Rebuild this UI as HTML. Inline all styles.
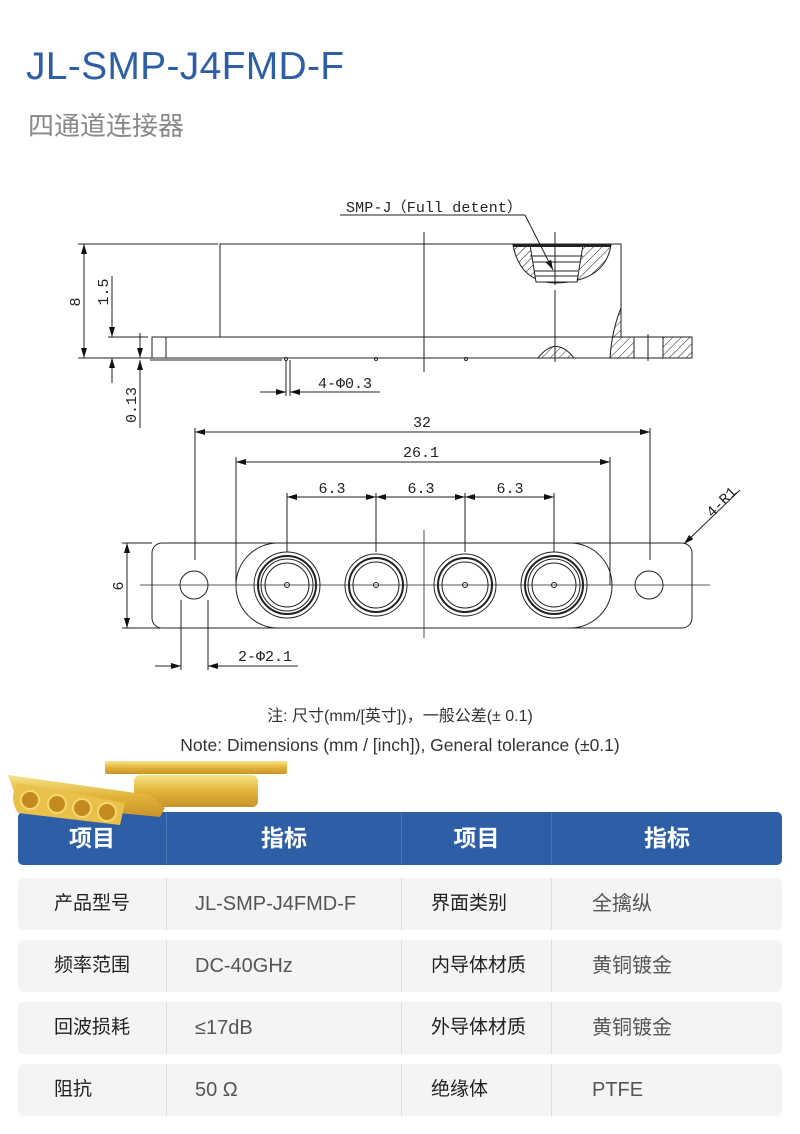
<!DOCTYPE html>
<html><head><meta charset="utf-8">
<style>
html,body{margin:0;padding:0;background:#fff;}
body{width:800px;height:1134px;position:relative;overflow:hidden;font-family:"Liberation Sans","Noto Sans CJK SC",sans-serif;}
.t1{position:absolute;left:26px;top:45px;font-size:39px;color:#2e5fa6;letter-spacing:0.3px;}
.t2{position:absolute;left:28px;top:106px;font-size:26px;color:#888;}
.note{position:absolute;left:0;width:800px;text-align:center;color:#333;}
.row{position:absolute;left:18px;width:764px;height:52px;background:#f4f4f4;border-radius:5px;}
.hd{background:#2e5fa6;border-radius:5px;height:53px;top:812px;}
.c{position:absolute;top:0;height:100%;line-height:52px;font-size:19px;}
.hd .c{color:#fff;font-weight:bold;font-size:23px;text-align:center;}
.v{color:#555;font-size:20px;}
.dv{position:absolute;top:0;height:100%;width:1px;background:#ddd;}
.hd .dv{background:#4b76b5;}
</style></head><body>
<div class="t1">JL-SMP-J4FMD-F</div>
<div class="t2">四通道连接器</div>
<svg width="800" height="700" style="position:absolute;left:0;top:0" font-family="Liberation Mono,monospace" font-size="15" fill="none" stroke="#222" stroke-width="1">
<defs>
<pattern id="h" width="6" height="6" patternUnits="userSpaceOnUse" patternTransform="rotate(45)"><line x1="0" y1="0" x2="0" y2="6" stroke="#222" stroke-width="1"/></pattern>
<marker id="a" markerWidth="10" markerHeight="6" refX="10" refY="3" orient="auto-start-reverse" markerUnits="userSpaceOnUse"><path d="M0,0 L10,3 L0,6z" fill="#111" stroke="none"/></marker>
</defs>
<line x1="78" y1="244" x2="218" y2="244"/>
<rect x="220" y="244" width="401" height="93"/>
<rect x="152" y="337" width="540" height="21"/>
<line x1="166" y1="337" x2="166" y2="358"/>
<line x1="78" y1="358" x2="152" y2="358"/>
<line x1="150" y1="360" x2="282" y2="360"/>
<line x1="424" y1="232" x2="424" y2="372"/>
<path d="M513,245 Q520,282 555,283 Q605,282 611,245 Z" fill="url(#h)"/>
<path d="M530,245 L583,245 L577,282 L536,282 Z" fill="#fff"/>
<line x1="530" y1="256" x2="583" y2="256"/><line x1="533" y1="262" x2="580" y2="262"/><line x1="534" y1="271" x2="578" y2="271"/><line x1="535" y1="276" x2="578" y2="276"/>
<line x1="513" y1="246" x2="611" y2="246" stroke-width="2"/>
<line x1="555" y1="232" x2="555" y2="285"/><line x1="555" y1="290" x2="555" y2="362"/>
<path d="M538,358 Q556,335 574,358 Z" fill="url(#h)"/>
<path d="M621,308 Q612,330 610,358 L634,358 L634,337 L621,337 Z" fill="url(#h)"/>
<rect x="663" y="337" width="29" height="21" fill="url(#h)"/>
<line x1="648" y1="334" x2="648" y2="361"/>
<circle cx="286" cy="359" r="1.5"/><circle cx="376" cy="359" r="1.5"/><circle cx="466" cy="359" r="1.5"/>
<line x1="84" y1="244" x2="84" y2="358" marker-start="url(#a)" marker-end="url(#a)"/>
<line x1="112" y1="276" x2="112" y2="337" marker-end="url(#a)"/>
<line x1="112" y1="358" x2="112" y2="383" marker-start="url(#a)"/>
<line x1="108" y1="337" x2="148" y2="337"/>
<line x1="140" y1="333" x2="140" y2="358" marker-end="url(#a)"/>
<line x1="140" y1="360" x2="140" y2="428" marker-start="url(#a)"/>
<line x1="286" y1="360" x2="286" y2="396"/><line x1="290" y1="360" x2="290" y2="396"/>
<line x1="260" y1="392" x2="286" y2="392" marker-end="url(#a)"/>
<line x1="290" y1="392" x2="380" y2="392" marker-start="url(#a)"/>
<line x1="340" y1="215" x2="525" y2="215"/>
<line x1="525" y1="215" x2="553" y2="270" marker-end="url(#a)"/>
<g fill="#222" stroke="none">
<text x="346" y="212" textLength="176">SMP-J（Full detent）</text>
<text x="318" y="388">4-Φ0.3</text>
<text transform="translate(80,302) rotate(-90)" text-anchor="middle">8</text>
<text transform="translate(108,292) rotate(-90)" text-anchor="middle">1.5</text>
<text transform="translate(136,405) rotate(-90)" text-anchor="middle">0.13</text>
</g>
<rect x="152" y="543" width="540" height="85" rx="10"/>
<rect x="236" y="543" width="376" height="85" rx="42"/>
<line x1="140" y1="585" x2="710" y2="585" stroke-width="0.8"/>
<line x1="424" y1="530" x2="424" y2="638" stroke-width="0.8"/>
<circle cx="194" cy="585" r="14"/><circle cx="649" cy="585" r="14"/>
<g>
<circle cx="287" cy="585" r="33"/><circle cx="287" cy="585" r="29" stroke-width="2"/><circle cx="287" cy="585" r="26"/><circle cx="287" cy="585" r="22"/><circle cx="287" cy="585" r="2.5"/>
<circle cx="376" cy="585" r="31"/><circle cx="376" cy="585" r="27" stroke-width="2"/><circle cx="376" cy="585" r="23"/><circle cx="376" cy="585" r="2.5"/>
<circle cx="465" cy="585" r="31"/><circle cx="465" cy="585" r="27" stroke-width="2"/><circle cx="465" cy="585" r="23"/><circle cx="465" cy="585" r="2.5"/>
<circle cx="554" cy="585" r="33"/><circle cx="554" cy="585" r="29" stroke-width="2"/><circle cx="554" cy="585" r="26"/><circle cx="554" cy="585" r="22"/><circle cx="554" cy="585" r="2.5"/>
</g>
<line x1="195" y1="428" x2="195" y2="560"/><line x1="650" y1="428" x2="650" y2="560"/>
<line x1="195" y1="432" x2="650" y2="432" marker-start="url(#a)" marker-end="url(#a)"/>
<line x1="236" y1="457" x2="236" y2="585"/><line x1="610" y1="457" x2="610" y2="585"/>
<line x1="236" y1="462" x2="610" y2="462" marker-start="url(#a)" marker-end="url(#a)"/>
<line x1="287" y1="493" x2="287" y2="552"/><line x1="376" y1="493" x2="376" y2="552"/><line x1="465" y1="493" x2="465" y2="552"/><line x1="554" y1="493" x2="554" y2="552"/>
<line x1="287" y1="497" x2="376" y2="497" marker-start="url(#a)" marker-end="url(#a)"/>
<line x1="376" y1="497" x2="465" y2="497" marker-start="url(#a)" marker-end="url(#a)"/>
<line x1="465" y1="497" x2="554" y2="497" marker-start="url(#a)" marker-end="url(#a)"/>
<line x1="122" y1="543" x2="152" y2="543"/><line x1="122" y1="628" x2="160" y2="628"/>
<line x1="127" y1="543" x2="127" y2="628" marker-start="url(#a)" marker-end="url(#a)"/>
<line x1="181" y1="600" x2="181" y2="670"/><line x1="208" y1="600" x2="208" y2="670"/>
<line x1="155" y1="666" x2="181" y2="666" marker-end="url(#a)"/>
<line x1="208" y1="666" x2="298" y2="666" marker-start="url(#a)"/>
<line x1="740" y1="490" x2="684" y2="544" marker-end="url(#a)"/>
<g fill="#222" stroke="none">
<text x="422" y="427" text-anchor="middle">32</text>
<text x="421" y="457" text-anchor="middle">26.1</text>
<text x="332" y="493" text-anchor="middle">6.3</text>
<text x="421" y="493" text-anchor="middle">6.3</text>
<text x="510" y="493" text-anchor="middle">6.3</text>
<text transform="translate(123,586) rotate(-90)" text-anchor="middle">6</text>
<text x="238" y="661">2-Φ2.1</text>
<text transform="translate(712,518) rotate(-45)">4-R1</text>
</g>
</svg>
<div class="note" style="top:702px;font-size:16px;">注: 尺寸(mm/[英寸])，一般公差(± 0.1)</div>
<div class="note" style="top:735px;font-size:17.5px;">Note: Dimensions (mm / [inch]), General tolerance (±0.1)</div>
<div class="row hd">
<div class="c" style="left:0;width:148px">项目</div><div class="dv" style="left:148px"></div>
<div class="c" style="left:149px;width:234px">指标</div><div class="dv" style="left:383px"></div>
<div class="c" style="left:384px;width:149px">项目</div><div class="dv" style="left:533px"></div>
<div class="c" style="left:534px;width:230px">指标</div>
</div>
<svg width="300" height="80" style="position:absolute;left:0;top:755px">
<defs><linearGradient id="g" x1="0" y1="0" x2="0" y2="1"><stop offset="0" stop-color="#f8e48a"/><stop offset="0.5" stop-color="#e2b43a"/><stop offset="1" stop-color="#c8922a"/></linearGradient></defs>
<rect x="134" y="20" width="124" height="32" rx="6" fill="url(#g)"/>
<rect x="105" y="6" width="182" height="13" rx="2" fill="url(#g)"/>
<path d="M8,20 L150,40 L165,53 L160,62 L18,48 Z" fill="url(#g)"/>
<path d="M18,28 L125,48 L120,70 L18,58 Q8,42 18,28Z" fill="#e8c04a"/>
<g fill="#c48a20" stroke="#f5d870" stroke-width="2"><circle cx="30" cy="45" r="9"/><circle cx="57" cy="49" r="9"/><circle cx="82" cy="53" r="9"/><circle cx="107" cy="57" r="9"/></g>
</svg>
<div class="row" style="top:878px"><div class="c" style="left:36px;color:#222">产品型号</div><div class="dv" style="left:148px"></div><div class="c v" style="left:177px">JL-SMP-J4FMD-F</div><div class="dv" style="left:383px"></div><div class="c" style="left:413px;color:#222">界面类别</div><div class="dv" style="left:533px"></div><div class="c v" style="left:574px">全擒纵</div></div>
<div class="row" style="top:940px"><div class="c" style="left:36px;color:#222">频率范围</div><div class="dv" style="left:148px"></div><div class="c v" style="left:177px">DC-40GHz</div><div class="dv" style="left:383px"></div><div class="c" style="left:413px;color:#222">内导体材质</div><div class="dv" style="left:533px"></div><div class="c v" style="left:574px">黄铜镀金</div></div>
<div class="row" style="top:1002px"><div class="c" style="left:36px;color:#222">回波损耗</div><div class="dv" style="left:148px"></div><div class="c v" style="left:177px">≤17dB</div><div class="dv" style="left:383px"></div><div class="c" style="left:413px;color:#222">外导体材质</div><div class="dv" style="left:533px"></div><div class="c v" style="left:574px">黄铜镀金</div></div>
<div class="row" style="top:1064px"><div class="c" style="left:36px;color:#222">阻抗</div><div class="dv" style="left:148px"></div><div class="c v" style="left:177px">50 Ω</div><div class="dv" style="left:383px"></div><div class="c" style="left:413px;color:#222">绝缘体</div><div class="dv" style="left:533px"></div><div class="c v" style="left:574px">PTFE</div></div>
</body></html>
